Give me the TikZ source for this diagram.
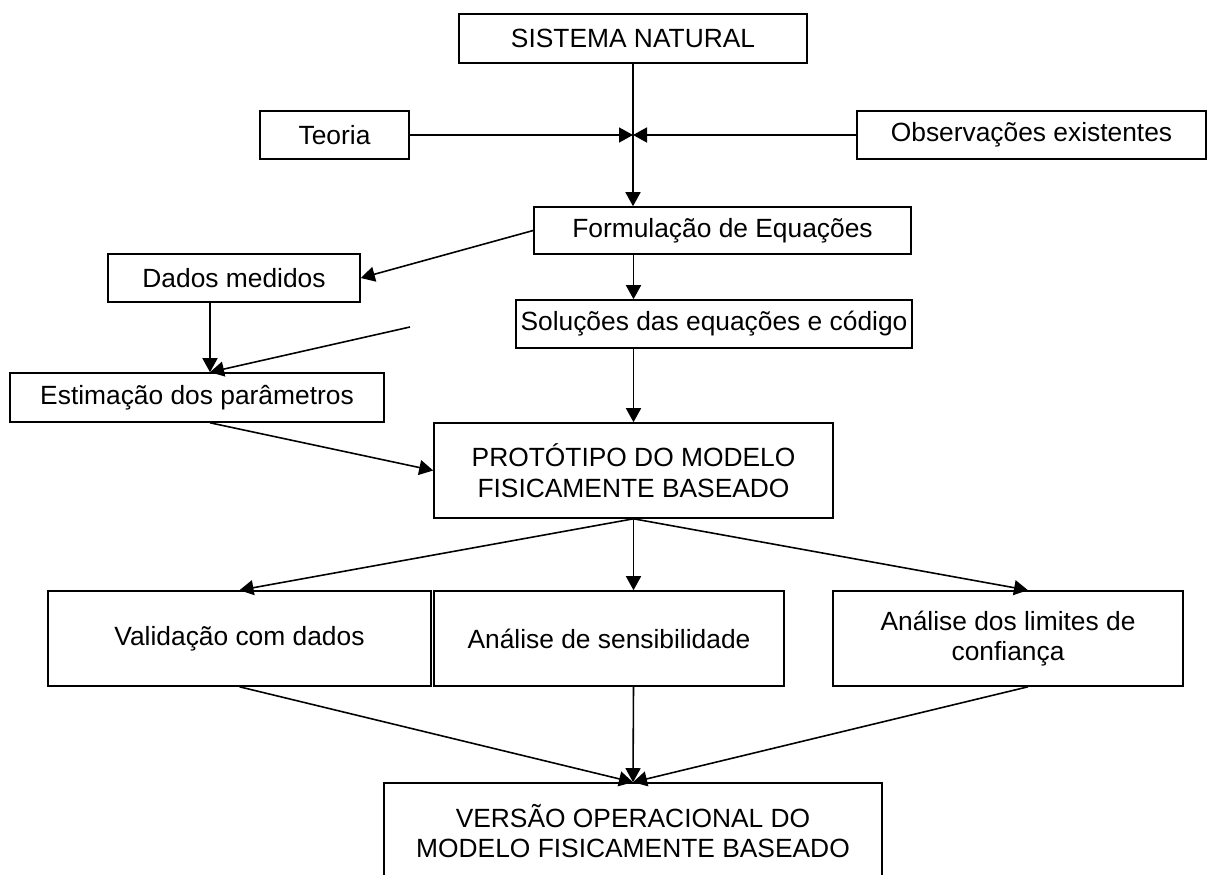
\documentclass[tikz,border=0pt]{standalone}
\usepackage{fontspec}
\setmainfont{Liberation Sans}
\usetikzlibrary{arrows.meta}

\begin{document}
\begin{tikzpicture}[
  box/.style={draw, line width=0.9pt, inner sep=2pt, align=center,
    font=\fontsize{15}{17.5}\selectfont},
  seta/.style={-{Triangle[length=0.28cm,width=0.3cm]}, line width=0.9pt}
]
%\draw[step=1cm,gray,very thin] (0,0) grid (24,17); %background grid
\useasboundingbox (0,0) rectangle (24.16,17.48);
\clip (0,0) rectangle (24.16,17.48);
%boxes
\node[box, minimum width=6.96cm, minimum height=0.98cm] (sist) at (12.66,16.71) {SISTEMA NATURAL};
\node[box, minimum width=2.98cm, minimum height=0.96cm] (teoria) at (6.69,14.78) {Teoria};
\node[box, minimum width=6.98cm, minimum height=0.96cm] (obs) at (20.63,14.78) {Observações existentes};
\node[box, minimum width=7.54cm, minimum height=0.94cm] (form) at (14.45,12.87) {Formulação de Equações};
\node[box, minimum width=5.04cm, minimum height=0.96cm] (dados) at (4.68,11.92) {Dados medidos};
\node[box, minimum width=7.92cm, minimum height=0.96cm] (sol) at (14.28,11.0) {Soluções das equações e código};
\node[box, minimum width=7.48cm, minimum height=0.98cm] (est) at (3.94,9.53) {Estimação dos parâmetros};
\node[box, minimum width=7.98cm, minimum height=1.9cm] (proto) at (12.67,8.07) {PROTÓTIPO DO MODELO\\FISICAMENTE BASEADO};
\node[box, minimum width=7.66cm, minimum height=1.9cm] (valid) at (4.79,4.71) {Validação com dados};
\node[box, minimum width=7.0cm, minimum height=1.9cm] (sens) at (12.18,4.71) {Análise de sensibilidade};
\node[box, minimum width=7.0cm, minimum height=1.9cm] (lim) at (20.16,4.71) {Análise dos limites de\\confiança};
\node[box, minimum width=9.96cm, minimum height=1.92cm] (versao) at (12.66,0.86) {VERSÃO OPERACIONAL DO\\MODELO FISICAMENTE BASEADO};
%auxiliary points
\coordinate (junc) at (12.66,14.78);
\coordinate (livre) at (8.2,10.94);
\coordinate (estin) at ([xshift=0.26cm]est.north);
\coordinate (limin) at ([xshift=0.4cm]lim.north);
\coordinate (limout) at ([xshift=0.4cm]lim.south);
%arrows
\draw[seta] (sist.south) -- (sist.south |- form.north);
\draw[seta] (teoria.east) -- (junc);
\draw[seta] (obs.west) -- (junc);
\draw[seta] (form.west) -- (dados.east);
\draw[seta] (proto.north |- form.south) -- (proto.north |- sol.north);
\draw[seta] (dados.south -| estin) -- (estin);
\draw[seta] (livre) -- (estin);
\draw[seta] (proto.north |- sol.south) -- (proto.north);
\draw[seta] (estin |- est.south) -- (proto.west);
\draw[seta] (proto.south) -- (valid.north);
\draw[seta] (proto.south) -- (proto.south |- sens.north);
\draw[seta] (proto.south) -- (limin);
\draw[seta] (valid.south) -- (versao.north);
\draw[seta] (proto.south |- sens.south) -- (versao.north);
\draw[seta] (limout) -- (versao.north);
\end{tikzpicture}
\end{document}
